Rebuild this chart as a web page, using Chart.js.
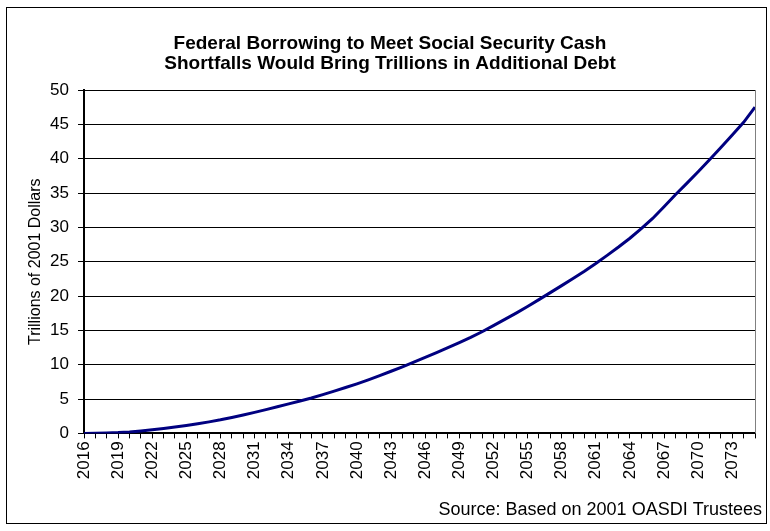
<!DOCTYPE html>
<html>
<head>
<meta charset="utf-8">
<script src="https://cdn.jsdelivr.net/npm/chart.js@4/dist/chart.umd.min.js"></script>
<style>
  html, body { margin: 0; padding: 0; background: #fff; }
  #wrap { position: relative; width: 770px; height: 531px; }
  #frame { position: absolute; left: 6px; top: 7px; width: 761px; height: 517px; border: 1px solid #000; box-sizing: border-box; pointer-events: none; }
  canvas { position: absolute; left: 0; top: 0; }
</style>
</head>
<body>
<div id="wrap">
  <canvas id="c" width="770" height="531"></canvas>
  <div id="frame"></div>
</div>
<script>
const years = [
  '2016','2017','2018','2019','2020','2021','2022','2023','2024','2025',
  '2026','2027','2028','2029','2030','2031','2032','2033','2034','2035',
  '2036','2037','2038','2039','2040','2041','2042','2043','2044','2045',
  '2046','2047','2048','2049','2050','2051','2052','2053','2054','2055',
  '2056','2057','2058','2059','2060','2061','2062','2063','2064','2065',
  '2066','2067','2068','2069','2070','2071','2072','2073','2074','2075'
];
const debtTrillions = [
  0.00, 0.02, 0.06, 0.12, 0.22, 0.36, 0.52, 0.71, 0.92, 1.15,
  1.40, 1.68, 1.98, 2.32, 2.68, 3.06, 3.46, 3.88, 4.30, 4.72,
  5.15, 5.65, 6.15, 6.68, 7.22, 7.80, 8.42, 9.05, 9.70, 10.38,
  11.06, 11.76, 12.48, 13.22, 13.98, 14.80, 15.70, 16.60, 17.52, 18.48,
  19.48, 20.50, 21.52, 22.56, 23.62, 24.74, 25.92, 27.14, 28.42, 29.80,
  31.30, 33.00, 34.75, 36.40, 38.10, 39.85, 41.64, 43.44, 45.30, 47.50
];
const titleLines = ['Federal Borrowing to Meet Social Security Cash', 'Shortfalls Would Bring Trillions in Additional Debt'];
const yAxisTitle = 'Trillions of 2001 Dollars';
const sourceText = 'Source: Based on 2001 OASDI Trustees';
const labelEvery = 3;
const yMin = 0, yMax = 50, yStep = 5;

const FONT = "'Liberation Sans', Arial, sans-serif";

const plotBorder = {
  id: 'plotBorder',
  afterDraw(chart) {
    const {ctx, chartArea: a} = chart;
    ctx.save();
    ctx.strokeStyle = '#808080';
    ctx.lineWidth = 1;
    ctx.beginPath();
    ctx.moveTo(Math.round(a.right) + 0.5, a.top);
    ctx.lineTo(Math.round(a.right) + 0.5, a.bottom);
    ctx.stroke();
    ctx.restore();
  }
};

new Chart(document.getElementById('c'), {
  type: 'line',
  data: {
    labels: years,
    datasets: [{
      data: debtTrillions,
      borderColor: '#000080',
      borderWidth: 3,
      pointRadius: 0,
      tension: 0,
      fill: false,
      yAxisID: 'y'
    }]
  },
  options: {
    responsive: false,
    animation: false,
    devicePixelRatio: 1,
    layout: { padding: { left: 18, right: 8, top: 0, bottom: 0 } },
    plugins: {
      legend: { display: false },
      tooltip: { enabled: false },
      title: {
        display: true,
        text: titleLines,
        color: '#000',
        font: { family: FONT, size: 19, weight: 'bold', lineHeight: '20px' },
        padding: { top: 34, bottom: 16 }
      },
      subtitle: {
        display: true,
        text: sourceText,
        position: 'bottom',
        align: 'end',
        color: '#000',
        font: { family: FONT, size: 18, weight: 'normal', lineHeight: 1.2 },
        padding: { top: 4, bottom: 10 }
      }
    },
    scales: {
      x: {
        type: 'category',
        offset: false,
        grid: { display: true, drawOnChartArea: false, drawTicks: true, tickLength: 5, color: '#000', lineWidth: 1 },
        border: { display: true, color: '#000', width: 2 },
        ticks: {
          autoSkip: false,
          minRotation: 90,
          maxRotation: 90,
          padding: 3,
          color: '#000',
          font: { family: FONT, size: 17 },
          callback: function(v, i) { return i % labelEvery === 0 ? this.getLabelForValue(v) : ''; }
        },
        afterFit: s => { s.height = 62; s.paddingLeft = 0; s.paddingRight = 0; }
      },
      y: {
        position: 'left',
        min: yMin, max: yMax,
        grid: { color: '#000', lineWidth: 1, tickLength: 6, drawTicks: true },
        border: { display: true, color: '#000', width: 2 },
        ticks: { stepSize: yStep, padding: 9, color: '#000', font: { family: FONT, size: 17 } },
        title: { display: true, text: yAxisTitle, color: '#000', font: { family: FONT, size: 16, lineHeight: 1.2 }, padding: { top: 8, bottom: 0 } },
        afterFit: s => { s.width = 66; }
      },
      yR: {
        position: 'right',
        display: true,
        min: yMin, max: yMax,
        grid: { display: false, drawTicks: false },
        border: { display: false },
        ticks: { display: false },
        afterFit: s => { s.width = 7; s.paddingTop = 0; s.paddingBottom = 0; }
      }
    }
  },
  plugins: [plotBorder]
});
</script>
</body>
</html>
